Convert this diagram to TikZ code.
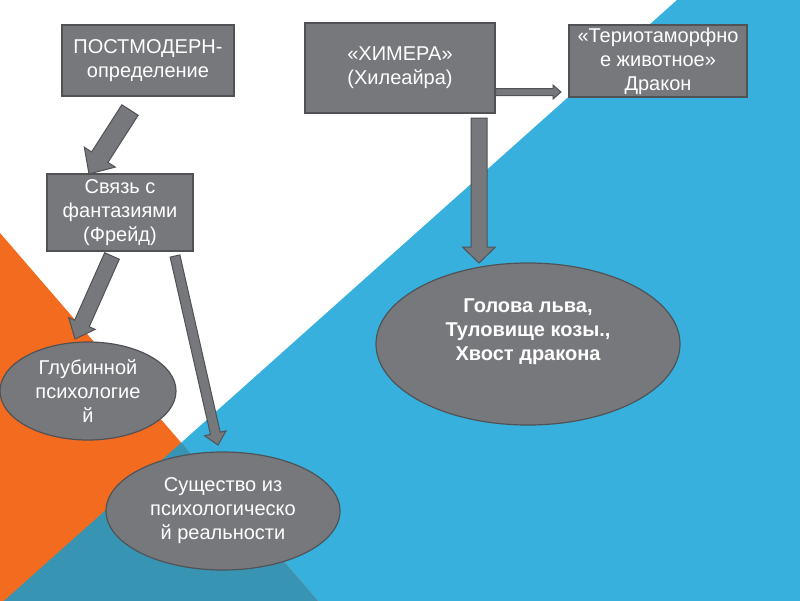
\documentclass[tikz,border=0pt]{standalone}
\usepackage{fontspec}
\setmainfont{Liberation Sans}
\usetikzlibrary{calc,shapes.geometric}
\definecolor{bgblue}{HTML}{38B0DE}
\definecolor{bgorange}{HTML}{F26B1F}
\definecolor{bgmix}{HTML}{3795B3}
\definecolor{boxgray}{HTML}{77787C}
\definecolor{boxline}{HTML}{505256}
\newcommand{\blockarrow}[5]{%
  \path coordinate (hb) at ($(#2)!#5!(#1)$);
  \draw[barrow] ($(#1)!#3!90:(#2)$) -- ($(hb)!#3!90:(#2)$) -- ($(hb)!#4!90:(#2)$) -- (#2)
    -- ($(hb)!#4!-90:(#2)$) -- ($(hb)!#3!-90:(#2)$) -- ($(#1)!#3!-90:(#2)$) -- cycle;
}
\begin{document}
\begin{tikzpicture}[x=1pt,y=-1pt,
  box/.style={draw=boxline, line width=1.2pt, fill=boxgray, text=white, align=center,
    inner sep=0pt, font=\fontsize{20}{24}\selectfont},
  oval/.style={ellipse, draw=boxline, line width=1.2pt, fill=boxgray, text=white, align=center,
    inner sep=0pt, font=\fontsize{20}{24}\selectfont},
  txt/.style={text=white, align=center, inner sep=0pt, font=\fontsize{20}{24}\selectfont},
  barrow/.style={draw=boxline, line width=1pt, fill=boxgray, line join=miter}]
\useasboundingbox (0,0) rectangle (800,600);
\fill[white] (-2,-2) rectangle (802,602);
% background
\coordinate (b1) at (677,0);
\coordinate (b2) at (5,600);
\coordinate (o1) at (0,233);
\coordinate (o2) at (317,600);
\fill[bgblue] (b1) -- (802,0) -- (802,604) -- ($(b1)!1.006!(b2)$) -- cycle;
\fill[bgorange] (o1) -- ($(o1)!1.01!(o2)$) -- (-2,604) -- (-2,233) -- cycle;
\fill[bgmix] (intersection of b1--b2 and o1--o2) -- ($(o1)!1.01!(o2)$) -- ($(b1)!1.006!(b2)$) -- cycle;
% boxes
\node[box, minimum width=172pt, minimum height=71pt] (post) at (148,60.5) {ПОСТМОДЕРН-\\определение};
\node[box, minimum width=190pt, minimum height=90pt] (chim) at (400,68) {«ХИМЕРА»\\(Хилеайра)};
\node[box, minimum width=178pt, minimum height=72pt] (drak) at (658,61) {«Териотаморфно\\е животное»\\Дракон};
\node[box, minimum width=146pt, minimum height=77pt] (svz) at (120,212.5) {Связь с\\фантазиями\\(Фрейд)};
% ellipses
\node[oval, minimum width=176pt, minimum height=98pt] (glub) at (88,391) {Глубинной\\психологие\\й};
\node[oval, minimum width=234pt, minimum height=118pt] (sush) at (223,511) {Существо из\\психологическо\\й реальности};
\node[oval, minimum width=304pt, minimum height=162pt] (gol) at (528,344) {};
\node[txt, font=\fontsize{20}{24}\selectfont\bfseries] (goltxt) at ($(gol.center)+(0,-12)$) {Голова льва,\\Туловище козы.,\\Хвост дракона};
% arrows
\coordinate (aT) at (130,110); \coordinate (aP) at (89,174);
\coordinate (bT) at (112,256); \coordinate (bP) at (75,339);
\coordinate (cT) at (175,256); \coordinate (cP) at (218,445);
\coordinate (dT) at (479,118); \coordinate (dP) at (479,263);
\coordinate (eT) at (chim.east |- 0,92); \coordinate (eP) at (561,92);
\blockarrow{aT}{aP}{9.7pt}{18.4pt}{20pt}
\blockarrow{bT}{bP}{8pt}{14.5pt}{17pt}
\blockarrow{cT}{cP}{5pt}{11pt}{12pt}
\blockarrow{dT}{dP}{8pt}{16.5pt}{16pt}
\blockarrow{eT}{eP}{3.5pt}{7pt}{8pt}
\end{tikzpicture}
\end{document}
